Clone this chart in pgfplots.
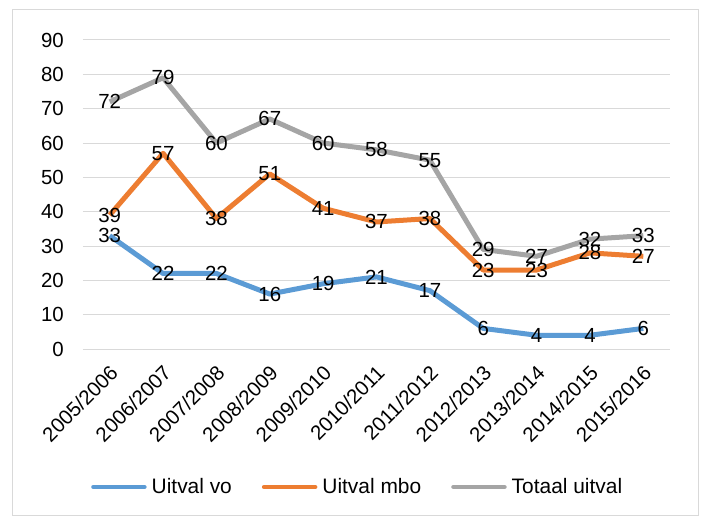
\documentclass[border=0pt]{standalone}
\usepackage{fontspec}
\setmainfont{Liberation Sans}
\usepackage{pgfplots}
\usepackage{pgfplotstable}
\pgfplotsset{compat=1.18}
\definecolor{vo}{HTML}{5B9BD5}
\definecolor{mbo}{HTML}{ED7D31}
\definecolor{tot}{HTML}{A5A5A5}
\definecolor{gridc}{HTML}{D9D9D9}

\pgfplotstableread{
x vo mbo tot
0 33 39 72
1 22 57 79
2 22 38 60
3 16 51 67
4 19 41 60
5 21 37 58
6 17 38 55
7 6 23 29
8 4 23 27
9 4 28 32
10 6 27 33
}\uitval

\begin{document}
\fontsize{20.5}{24}\selectfont
\begin{tikzpicture}
\useasboundingbox (-83bp,-170bp) rectangle (619bp,349bp);
\draw[gridc, line width=1bp] (-70bp,-166bp) rectangle (615bp,339bp);
\begin{axis}[
  at={(0,0)}, anchor=south west,
  scale only axis, width=587bp, height=309bp,
  xmin=-0.5, xmax=10.5, ymin=0, ymax=90,
  xtick={0,...,10},
  xticklabels={2005/2006,2006/2007,2007/2008,2008/2009,2009/2010,2010/2011,2011/2012,2012/2013,2013/2014,2014/2015,2015/2016},
  ytick={0,10,...,90},
  axis line style={draw=none},
  major tick length=0pt,
  ymajorgrids, grid style={gridc, line width=1bp},
  xticklabel style={xshift=-1bp, yshift=-15bp, rotate=45, anchor=north east, inner sep=0pt},
  yticklabel style={xshift=-19bp, anchor=east, inner sep=0pt},
  /pgf/number format/assume math mode=true,
  clip=false,
  every axis plot/.append style={line width=5bp, line join=round, no markers},
  legend style={at={(0,0)}, anchor=west, xshift=5bp, yshift=-138bp, draw=none, fill=none,
    font=\fontsize{21}{25}\selectfont,
    nodes={inner sep=0pt},
    legend columns=-1,
    /tikz/every odd column/.append style={column sep=5bp},
    /tikz/every even column/.append style={column sep=30bp}},
  legend image code/.code={\draw[#1, line width=4.5bp, line cap=round] (2bp,0bp) -- (53bp,0bp);},
]
\addplot[vo] table[x=x, y=vo] {\uitval};
\addlegendentry{Uitval vo}
\addplot[mbo] table[x=x, y=mbo] {\uitval};
\addlegendentry{Uitval mbo}
\addplot[tot] table[x=x, y=tot] {\uitval};
\addlegendentry{Totaal uitval}
\pgfplotsinvokeforeach{vo,mbo,tot}{
  \addplot[draw=none, forget plot, nodes near coords,
    nodes near coords style={anchor=center, text=black, inner sep=0pt}]
    table[x=x, y=#1] {\uitval};
}
\end{axis}
\end{tikzpicture}
\end{document}
